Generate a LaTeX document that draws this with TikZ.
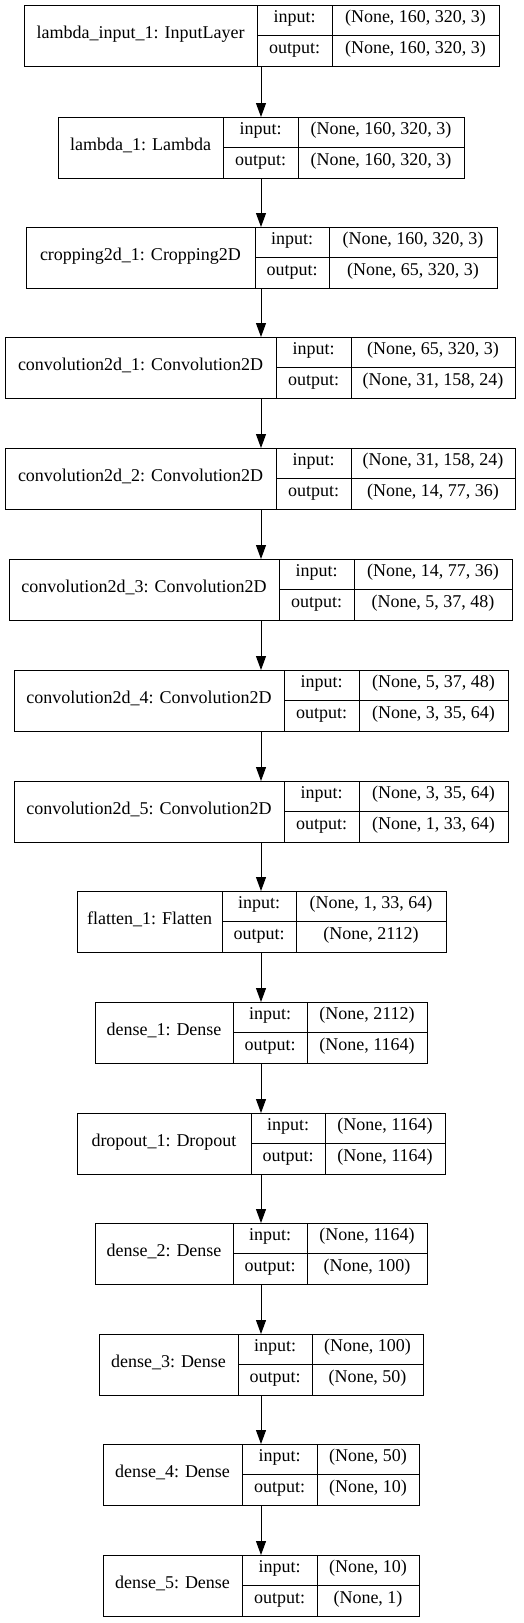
\documentclass[tikz,border=0pt]{standalone}
\usepackage{fontspec}
\setmainfont{Liberation Serif}
\usetikzlibrary{arrows.meta}
\tikzset{
  cellbox/.style={draw=black, line width=1pt, inner sep=0pt, outer sep=0pt,
    font=\fontsize{18}{20}\selectfont, text height=0.7em, text depth=0.2em,
    align=center, anchor=north west},
  arr/.style={draw=black, line width=1pt, -{Triangle[length=14pt,width=10pt]}}
}
% #1 name, #2 top, #3 x0, #4 x1, #5 x2, #6 x3, #7 label, #8 input shape, #9 output shape
\newcommand\klayer[9]{%
  \node[cellbox, minimum width={(#4-#3)*1pt}, minimum height=61pt] (#1) at (#3,#2) {#7};
  \node[cellbox, minimum width={(#5-#4)*1pt}, minimum height=30.5pt] (#1-inl) at (#4,#2) {input:};
  \node[cellbox, minimum width={(#5-#4)*1pt}, minimum height=30.5pt] (#1-outl) at (#4,#2+30.5) {output:};
  \node[cellbox, minimum width={(#6-#5)*1pt}, minimum height=30.5pt] (#1-inv) at (#5,#2) {#8};
  \node[cellbox, minimum width={(#6-#5)*1pt}, minimum height=30.5pt] (#1-outv) at (#5,#2+30.5) {#9};
}
\begin{document}
\begin{tikzpicture}[x=1pt, y=-1pt]
\useasboundingbox (0,0) rectangle (523,1623);
\coordinate (axis) at (261,0);
\klayer{lin}{5}{24}{257}{332}{499}{lambda\_input\_1: InputLayer}{(None, 160, 320, 3)}{(None, 160, 320, 3)}
\klayer{lam}{117}{58}{223}{298}{464}{lambda\_1: Lambda}{(None, 160, 320, 3)}{(None, 160, 320, 3)}
\klayer{crop}{227}{26}{255}{329}{497}{cropping2d\_1: Cropping2D}{(None, 160, 320, 3)}{(None, 65, 320, 3)}
\klayer{ca}{337}{5}{276}{351}{515}{convolution2d\_1: Convolution2D}{(None, 65, 320, 3)}{(None, 31, 158, 24)}
\klayer{cb}{448}{5}{276}{351}{515}{convolution2d\_2: Convolution2D}{(None, 31, 158, 24)}{(None, 14, 77, 36)}
\klayer{cc}{559}{9}{279}{354}{512}{convolution2d\_3: Convolution2D}{(None, 14, 77, 36)}{(None, 5, 37, 48)}
\klayer{cd}{670}{14}{284}{359}{508}{convolution2d\_4: Convolution2D}{(None, 5, 37, 48)}{(None, 3, 35, 64)}
\klayer{ce}{781}{14}{284}{359}{508}{convolution2d\_5: Convolution2D}{(None, 3, 35, 64)}{(None, 1, 33, 64)}
\klayer{fl}{891}{77}{222}{296}{446}{flatten\_1: Flatten}{(None, 1, 33, 64)}{(None, 2112)}
\klayer{da}{1002}{95}{233}{307}{427}{dense\_1: Dense}{(None, 2112)}{(None, 1164)}
\klayer{dr}{1113}{77}{251}{325}{445}{dropout\_1: Dropout}{(None, 1164)}{(None, 1164)}
\klayer{db}{1223}{95}{233}{307}{427}{dense\_2: Dense}{(None, 1164)}{(None, 100)}
\klayer{dc}{1334}{99}{238}{312}{423}{dense\_3: Dense}{(None, 100)}{(None, 50)}
\klayer{dd}{1444}{103}{242}{317}{419}{dense\_4: Dense}{(None, 50)}{(None, 10)}
\klayer{de}{1555}{103}{242}{317}{419}{dense\_5: Dense}{(None, 10)}{(None, 1)}
\foreach \a/\b in {lin/lam, lam/crop, crop/ca, ca/cb, cb/cc, cc/cd, cd/ce, ce/fl, fl/da, da/dr, dr/db, db/dc, dc/dd, dd/de}
  \draw[arr] (\a.south -| axis) -- (\b.north -| axis);
\end{tikzpicture}
\end{document}
